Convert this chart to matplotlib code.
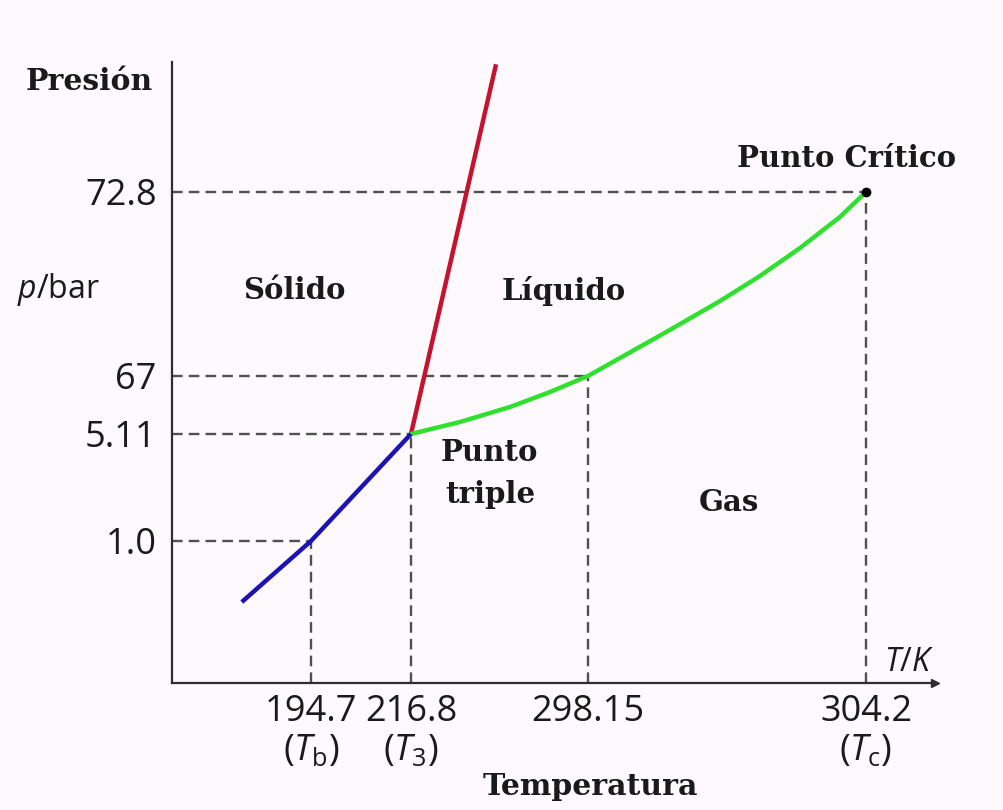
import numpy as np
import matplotlib
matplotlib.use("Agg")
import matplotlib.pyplot as plt

# ---- data -------------------------------------------------------------
temp_ticks = [194.7, 216.8, 298.15, 304.2]
temp_tick_labels = ["194.7\n($T_\\mathrm{b}$)", "216.8\n($T_\\mathrm{3}$)",
                    "298.15", "304.2\n($T_\\mathrm{c}$)"]
press_ticks = [1.0, 5.11, 67.0, 72.8]
press_tick_labels = ["1.0", "5.11", "67", "72.8"]

# guide points (T, p) that get dashed projections onto both axes
guide_T = [194.7, 216.8, 298.15, 304.2]
guide_p = [1.0, 5.11, 67.0, 72.8]

# coexistence curves
sublimation_T = [182.4, 194.7, 216.8]
sublimation_p = [0.57, 1.0, 5.11]
fusion_T = [216.8, 255.9]
fusion_p = [5.11, 89.7]
vapor_T = [216.8, 239.3, 262.3, 280.7, 298.15, 298.85, 299.93, 301.02,
           301.89, 302.76, 303.63, 304.2]
vapor_p = [5.11, 17.9, 33.9, 49.9, 67.0, 67.57, 68.45, 69.36, 70.15,
           71.03, 72.01, 72.8]

critical_point = (304.2, 72.8)

# ---- schematic (piecewise-linear) axis scales -------------------------
T_knots = np.array([170.0, 194.7, 216.8, 298.15, 304.2, 305.7])
T_frac = np.array([0.0, 0.1822, 0.3132, 0.5452, 0.9096, 1.0])
p_knots = np.array([0.0, 1.0, 5.11, 67.0, 72.8, 90.0])
p_frac = np.array([0.0, 0.2287, 0.401, 0.4944, 0.7907, 1.0])


def t_fwd(v):
    return np.interp(v, T_knots, T_frac)


def t_inv(v):
    return np.interp(v, T_frac, T_knots)


def p_fwd(v):
    return np.interp(v, p_knots, p_frac)


def p_inv(v):
    return np.interp(v, p_frac, p_knots)


# ---- styling ----------------------------------------------------------
plt.rcParams["mathtext.fontset"] = "custom"
plt.rcParams["mathtext.rm"] = "Open Sans"
plt.rcParams["mathtext.it"] = "Open Sans:italic"

W, H = 1004, 810
BG = "#fdf9fc"
AXIS = "#2e2e2e"
DASH = "#505050"
SERIF = dict(family="DejaVu Serif", weight="bold", color="#1a1a1a")
SANS = dict(family="Open Sans", color="#1a1a1a")

fig = plt.figure(figsize=(W / 100, H / 100), dpi=100, facecolor=BG)
ax = fig.add_axes([172 / W, 1 - 683 / H, (935 - 172) / W, (683 - 62) / H])
ax.set_facecolor(BG)
ax.set_xscale("function", functions=(t_fwd, t_inv))
ax.set_yscale("function", functions=(p_fwd, p_inv))
ax.set_xlim(T_knots[0], T_knots[-1])
ax.set_ylim(p_knots[0], p_knots[-1])

for side in ("top", "right"):
    ax.spines[side].set_visible(False)
for side in ("left", "bottom"):
    ax.spines[side].set_color(AXIS)
    ax.spines[side].set_linewidth(1.6)
ax.plot([1], [0], marker=">", ms=6, color=AXIS, transform=ax.transAxes,
        clip_on=False)

# dashed projections
x0 = T_knots[0]
y0 = p_knots[0]
for t, p in zip(guide_T, guide_p):
    ax.plot([x0, t], [p, p], color=DASH, lw=1.7, dashes=(4.5, 2.6),
            zorder=2)
    ax.plot([t, t], [y0, p], color=DASH, lw=1.7, dashes=(4.5, 2.6),
            zorder=2)

# phase boundaries
ax.plot(fusion_T, fusion_p, color="#c4122f", lw=3.2, solid_capstyle="butt",
        zorder=3)
ax.plot(vapor_T, vapor_p, color="#2fe02f", lw=3.2, solid_capstyle="round",
        solid_joinstyle="round", zorder=3)
ax.plot(sublimation_T, sublimation_p, color="#1d12b4", lw=3.2,
        solid_capstyle="butt", zorder=4)
ax.plot(*critical_point, "o", color="black", ms=6, zorder=5)

# ticks
ax.set_xticks(temp_ticks)
ax.set_xticklabels(temp_tick_labels, **SANS, fontsize=26, linespacing=1.12,
                   va="top", fontweight=500)
ax.set_yticks(press_ticks)
ax.set_yticklabels(press_tick_labels, **SANS, fontsize=26, fontweight=500)
ax.tick_params(axis="both", length=0)
ax.tick_params(axis="x", pad=8)
ax.tick_params(axis="y", pad=11)
ax.minorticks_off()


def put(text, x, y, **kw):
    fig.text(x / W, 1 - y / H, text, **kw)


# labels
put("Presión", 89, 90, ha="center", va="baseline", fontsize=21.5, **SERIF)
put("$p$/bar", 58, 298, ha="center", va="baseline", fontsize=23, **SANS)
put("Temperatura", 590, 795, ha="center", va="baseline", fontsize=21.5,
    **SERIF)
put("$T$/$K$", 909, 671, ha="center", va="baseline", fontsize=23, **SANS)
put("Sólido", 294, 299, ha="center", va="baseline", fontsize=21, **SERIF)
put("Líquido", 564, 300, ha="center", va="baseline", fontsize=21, **SERIF)
put("Punto Crítico", 847, 167, ha="center", va="baseline", fontsize=21,
    **SERIF)
put("Punto", 489, 461, ha="center", va="baseline", fontsize=21, **SERIF)
put("triple", 490, 503, ha="center", va="baseline", fontsize=21, **SERIF)
put("Gas", 729, 511, ha="center", va="baseline", fontsize=21, **SERIF)

fig.savefig("out.png", dpi=100, facecolor=BG)
